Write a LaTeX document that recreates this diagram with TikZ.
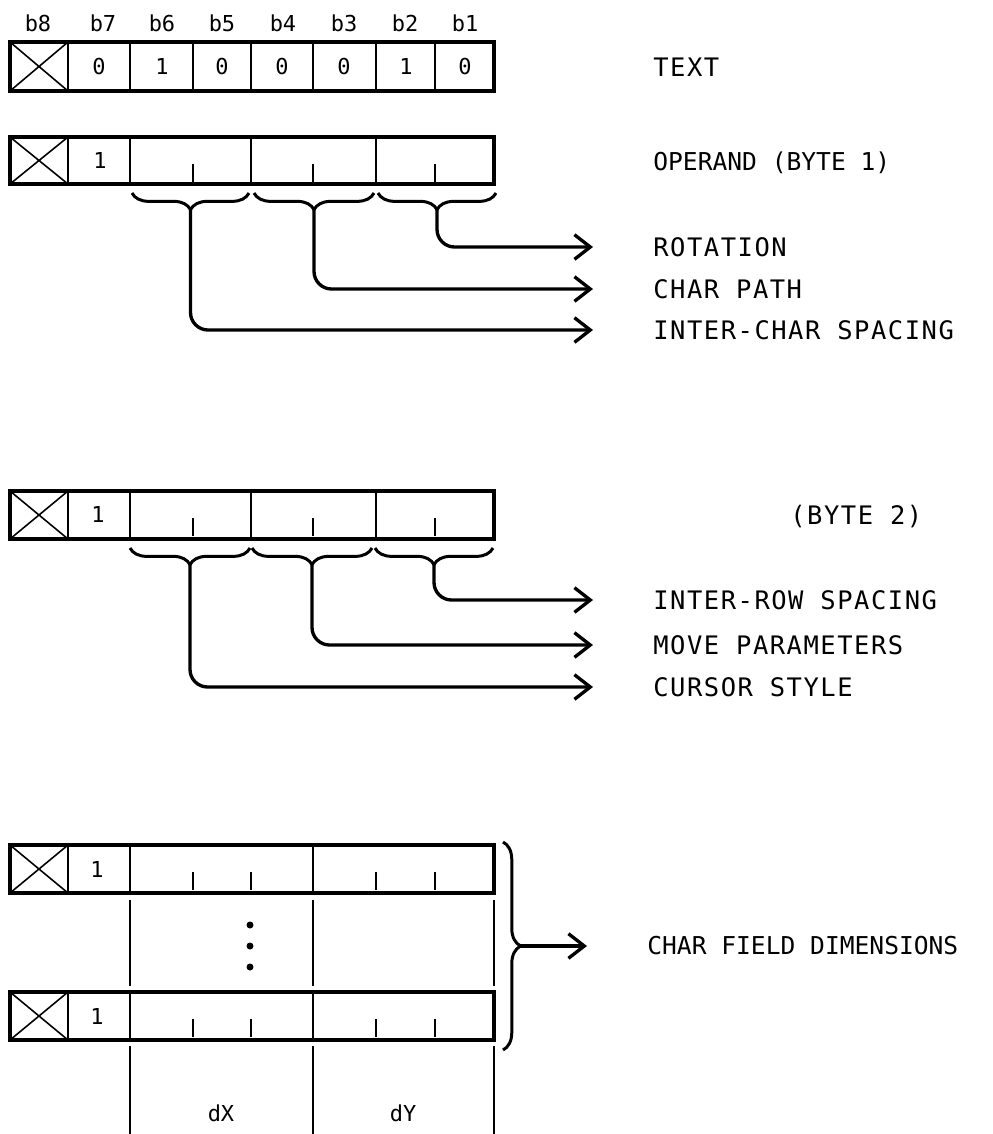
\documentclass[tikz,border=0pt]{standalone}
\usepackage{fontspec}
\newfontfamily\plotfont{DejaVu Sans Mono}
\newfontfamily\plotwide[LetterSpace=6]{DejaVu Sans Mono}
\usetikzlibrary{arrows.meta,positioning,decorations.pathreplacing}

\begin{document}
\begin{tikzpicture}[x=0.02cm,y=-0.02cm,node distance=1.2cm,>={Straight Barb[length=9pt,width=14pt]}]
  \tikzstyle{frame}=[line width=2pt]
  \tikzstyle{cellline}=[line width=1.1pt]
  \tikzstyle{crossline}=[line width=0.9pt]
  \tikzstyle{tick}=[line width=1.1pt]
  \tikzstyle{bitval}=[font=\plotfont\fontsize{12.5}{14}\selectfont]
  \tikzstyle{desc}=[font=\plotwide\fontsize{14.5}{17}\selectfont,anchor=west,inner sep=0pt]
  \tikzstyle{narrowdesc}=[desc,font=\plotfont\fontsize{14}{17}\selectfont]
  \tikzstyle{grp}=[line width=1.7pt,decorate,decoration={brace,mirror,amplitude=9.5pt}]
  \tikzstyle{bigbrace}=[line width=1.7pt,decorate,decoration={brace,amplitude=10pt}]
  \tikzstyle{feed}=[->,line width=1.9pt,rounded corners=10pt]
  \useasboundingbox (0,0) rectangle (993,1134);

  \foreach \b/\x in {8/38,7/103,6/162,5/222,4/283,3/344,2/405,1/465}
    \node[bitval] (bit\b) at (\x,23) {b\b};

  \draw[frame] (10,42) rectangle (494,91);
  \draw[crossline] (10,42) -- (68,91) (10,91) -- (68,42);
  \foreach \x in {68,130,193,251,313,376,435}
    \draw[cellline] (\x,42) -- (\x,91);
  \foreach \v/\x [count=\i] in {0/99,1/162,0/222,0/282,0/344,1/406,0/465}
    \node[bitval] (val\i) at (\x,66) {\v};
  \node[desc] (text) at (653,67) {TEXT};

  \draw[frame] (10,137) rectangle (494,184);
  \draw[crossline] (10,137) -- (68,184) (10,184) -- (68,137);
  \foreach \x in {68,130,251,376}
    \draw[cellline] (\x,137) -- (\x,184);
  \foreach \x in {193,313,435}
    \draw[tick] (\x,164) -- (\x,182);
  \node[bitval] (opflag) at (100,160) {1};
  \node[narrowdesc] (operand) at (653,163) {OPERAND (BYTE 1)};

  \draw[grp] (132,193) -- (249,193);
  \draw[grp] (254,193) -- (374,193);
  \draw[grp] (378,193) -- (496,193);
  \coordinate (spc) at (190.5,210);
  \coordinate (pth) at (314,210);
  \coordinate (rot) at (437,210);
  \coordinate (rotE) at (593,247);
  \coordinate (pthE) at (593,289);
  \coordinate (spcE) at (593,330);
  \node[desc,right=of rotE] (rotation) {ROTATION};
  \node[desc,right=of pthE] (charpath) {CHAR PATH};
  \node[desc,right=of spcE] (charspacing) {INTER-CHAR SPACING};
  \draw[feed] (rot) |- (rotE);
  \draw[feed] (pth) |- (pthE);
  \draw[feed] (spc) |- (spcE);

  \draw[frame] (10,491) rectangle (494,539);
  \draw[crossline] (10,491) -- (68,539) (10,539) -- (68,491);
  \foreach \x in {68,130,251,376}
    \draw[cellline] (\x,491) -- (\x,539);
  \foreach \x in {193,313,435}
    \draw[tick] (\x,518) -- (\x,536);
  \node[bitval] (byteflag) at (98,514) {1};
  \node[desc] (byte2) at (790,517) {(BYTE 2)};

  \draw[grp] (130,548) -- (250,548);
  \draw[grp] (252,548) -- (372,548);
  \draw[grp] (375,548) -- (493,548);
  \coordinate (cur) at (190,565);
  \coordinate (mov) at (312,565);
  \coordinate (row) at (434,565);
  \coordinate (rowE) at (593,600);
  \coordinate (movE) at (593,645);
  \coordinate (curE) at (593,687);
  \node[desc,right=of rowE] (rowspacing) {INTER-ROW SPACING};
  \node[desc,right=of movE] (moveparams) {MOVE PARAMETERS};
  \node[desc,right=of curE] (cursor) {CURSOR STYLE};
  \draw[feed] (row) |- (rowE);
  \draw[feed] (mov) |- (movE);
  \draw[feed] (cur) |- (curE);

  \foreach \y in {845,992}{
    \draw[frame] (10,\y) rectangle (494,\y+48);
    \draw[crossline] (10,\y) -- (68,\y+48) (10,\y+48) -- (68,\y);
    \foreach \x in {68,130,313}
      \draw[cellline] (\x,\y) -- (\x,\y+48);
    \foreach \x in {193,251,376,435}
      \draw[tick] (\x,\y+27) -- (\x,\y+45);
    \node[bitval] at (97,\y+24) {1};
  }
  \foreach \x in {130,313,494}{
    \draw[cellline] (\x,900) -- (\x,986);
    \draw[cellline] (\x,1046) -- (\x,1134);
  }
  \foreach \y in {925,946,967}
    \fill (250,\y) circle (3.5);
  \node[bitval] (dx) at (221,1113) {dX};
  \node[bitval] (dy) at (403,1113) {dY};

  \draw[bigbrace] (503,842) -- (503,1050);
  \coordinate (fld) at (520,946);
  \coordinate (fldE) at (587,946);
  \node[narrowdesc,right=of fldE] (fielddims) {CHAR FIELD DIMENSIONS};
  \draw[feed] (fld) -- (fldE);
\end{tikzpicture}
\end{document}
